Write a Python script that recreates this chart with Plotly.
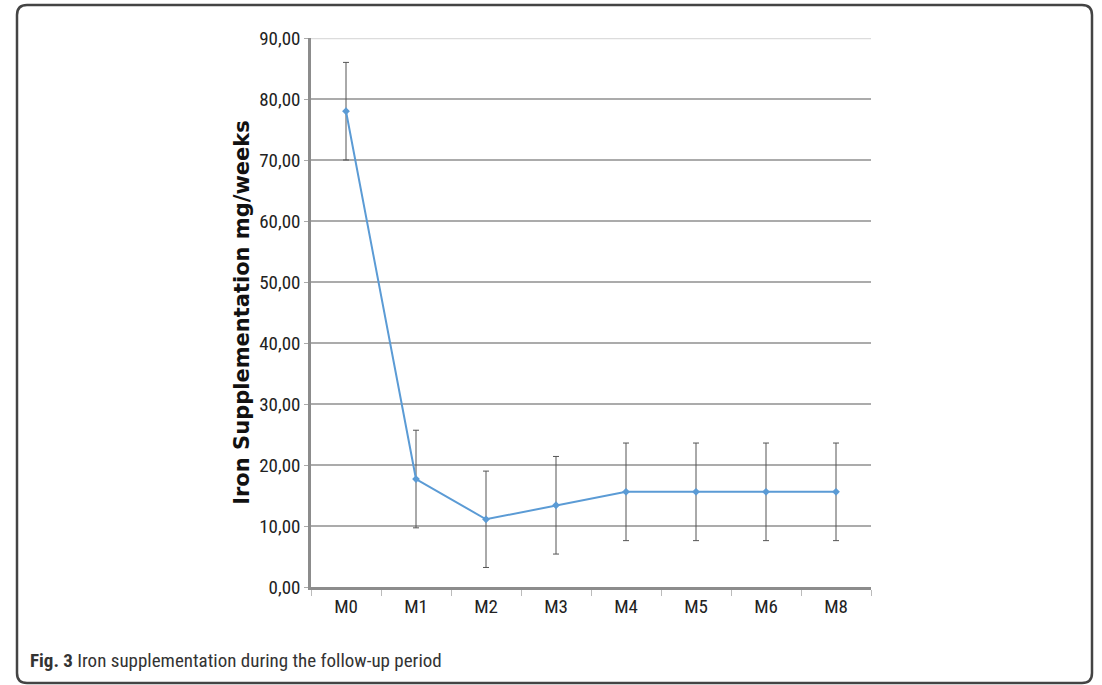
import plotly.graph_objects as go

categories = ["M0", "M1", "M2", "M3", "M4", "M5", "M6", "M8"]
means = [78.0, 17.7, 11.1, 13.4, 15.6, 15.6, 15.6, 15.6]
errors = [8.0, 8.0, 7.9, 8.0, 8.0, 8.0, 8.0, 8.0]
y_ticks = [0, 10, 20, 30, 40, 50, 60, 70, 80, 90]

W, H = 1102, 685
L, R, T, B = 311, 871, 38, 587

def px(x):
    return (x - L) / (R - L)

def py(y):
    return (B - y) / (B - T)

fig = go.Figure()
fig.add_trace(go.Scatter(
    x=categories, y=means, mode="lines+markers",
    line=dict(color="#5b9bd5", width=2),
    marker=dict(symbol="diamond", size=6, color="#5b9bd5"),
    error_y=dict(type="data", array=errors, visible=True,
                 color="#555555", thickness=1, width=3),
    showlegend=False,
))

NARROW = "Liberation Sans Narrow, Arial Narrow, Roboto Condensed, Liberation Sans, sans-serif"

fig.update_layout(
    width=W, height=H,
    margin=dict(l=L, r=W - R, t=T, b=H - B),
    paper_bgcolor="white", plot_bgcolor="white",
    separators=",.",
    xaxis=dict(
        type="category", range=[-0.5, 7.5],
        showline=True, linecolor="#8c8c8c", linewidth=3,
        ticks="outside", tickson="boundaries", ticklen=6, tickcolor="#bbbbbb",
        showgrid=False,
        tickfont=dict(family=NARROW, size=19, color="#222"),
    ),
    yaxis=dict(
        range=[0, 90], tickvals=y_ticks, tickformat=".2f",
        showline=True, linecolor="#8c8c8c", linewidth=2.5,
        ticks="outside", ticklen=4, tickcolor="#aaaaaa",
        showgrid=True, gridcolor="#ababab", gridwidth=1.5,
        zeroline=False,
        tickfont=dict(family=NARROW, size=19, color="#222"),
        title=dict(text="<b>Iron Supplementation mg/weeks</b>",
                   font=dict(family="DejaVu Sans, Liberation Sans, sans-serif", size=21, color="#111"),
                   standoff=4),
    ),
)

# lighter top gridline
fig.add_shape(type="line", xref="paper", yref="y", x0=0, x1=1, y0=y_ticks[-1], y1=y_ticks[-1],
              line=dict(color="#dcdcdc", width=2.5), layer="between")

# rounded border
x0, x1 = px(17), px(1092)
y0, y1 = py(683), py(5)
rx = 10 / (R - L)
ry = 10 / (B - T)
path = (f"M {x0+rx},{y1} L {x1-rx},{y1} Q {x1},{y1} {x1},{y1-ry} "
        f"L {x1},{y0+ry} Q {x1},{y0} {x1-rx},{y0} L {x0+rx},{y0} "
        f"Q {x0},{y0} {x0},{y0+ry} L {x0},{y1-ry} Q {x0},{y1} {x0+rx},{y1} Z")
fig.add_shape(type="path", path=path, xref="paper", yref="paper",
              line=dict(color="#444444", width=2.5), fillcolor="rgba(0,0,0,0)")

fig.add_annotation(
    text="<b>Fig. 3</b> Iron supplementation during the follow-up period",
    xref="paper", yref="paper", x=px(28), y=py(660),
    xanchor="left", yanchor="middle", showarrow=False,
    font=dict(family=NARROW, size=19, color="#333"),
)

fig.write_html("out.html")
